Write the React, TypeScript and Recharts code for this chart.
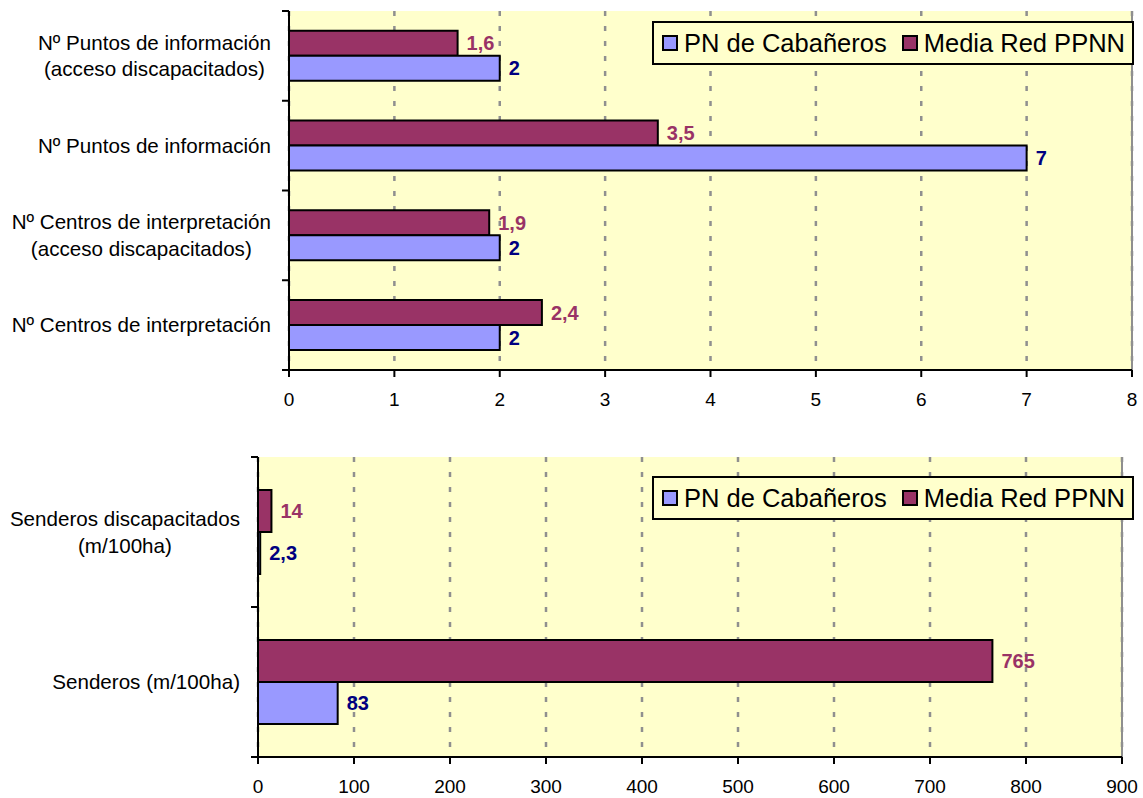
import {
  BarChart,
  Bar,
  XAxis,
  YAxis,
  CartesianGrid,
  Legend,
  LabelList,
  ReferenceLine,
} from "recharts";

// ─── Data ────────────────────────────────────────

const topCategories = [
  "Nº Puntos de información\n(acceso discapacitados)",
  "Nº Puntos de información",
  "Nº Centros de interpretación\n(acceso discapacitados)",
  "Nº Centros de interpretación",
];
const topPn = [2, 7, 2, 2];
const topMedia = [1.6, 3.5, 1.9, 2.4];
const topTicks = [0, 1, 2, 3, 4, 5, 6, 7, 8];

const bottomCategories = ["Senderos discapacitados\n(m/100ha)", "Senderos (m/100ha)"];
const bottomPn = [2.3, 83];
const bottomMedia = [14, 765];
const bottomTicks = [0, 100, 200, 300, 400, 500, 600, 700, 800, 900];

const PN_NAME = "PN de Cabañeros";
const MEDIA_NAME = "Media Red PPNN";
const LEGEND_ORDER = ["pn", "media"];

// ─── Styles ──────────────────────────────────────

const FONT = "Arial, 'Liberation Sans', Helvetica, sans-serif";
const PN_FILL = "#9999FF";
const MEDIA_FILL = "#993366";
const PN_LABEL = "#000080";
const PLOT_BG = "#FFFFCC";
const GRID = "#8f8f8f";
const CAT_FONT_SIZE = 20.6;

const fmt = (v: unknown) => String(v).replace(".", ",");

// ─── Text measuring for centred multi-line labels ─

let measureCtx: CanvasRenderingContext2D | null = null;
function textWidth(s: string, font: string) {
  if (!measureCtx && typeof document !== "undefined") {
    measureCtx = document.createElement("canvas").getContext("2d");
  }
  if (!measureCtx) return s.length * 10;
  measureCtx.font = font;
  return measureCtx.measureText(s).width;
}

// ─── Category tick: label + tick marks between categories ─

function CategoryTick(props: any) {
  const { x, y, payload, index, visibleTicksCount, height, lineHeight } = props;
  const band = (height ?? 0) / (visibleTicksCount || 1);
  const half = band / 2;
  const lines = String(payload.value).split("\n");
  const widest = Math.max(
    ...lines.map((l) => textWidth(l, `${CAT_FONT_SIZE}px ${FONT}`))
  );
  const cx = x - 18 - widest / 2;
  const first = y - ((lines.length - 1) * lineHeight) / 2;
  return (
    <g>
      <line x1={x - 7} x2={x} y1={y - half} y2={y - half} stroke="#000" strokeWidth={2} />
      {index === visibleTicksCount - 1 && (
        <line x1={x - 7} x2={x} y1={y + half} y2={y + half} stroke="#000" strokeWidth={2} />
      )}
      <text textAnchor="middle" fontSize={CAT_FONT_SIZE} fontFamily={FONT} fill="#000">
        {lines.map((l, i) => (
          <tspan key={i} x={cx} y={first + i * lineHeight} dy="0.35em">
            {l}
          </tspan>
        ))}
      </text>
    </g>
  );
}

// ─── Legend box ──────────────────────────────────

function LegendBox({ payload }: any) {
  const items = LEGEND_ORDER.map((k) =>
    (payload ?? []).find((p: any) => p.dataKey === k)
  ).filter(Boolean);
  return (
    <div
      style={{
        display: "flex",
        alignItems: "center",
        width: 482,
        height: 44,
        boxSizing: "border-box",
        border: "2px solid #000",
        background: PLOT_BG,
        paddingLeft: 8,
        fontFamily: FONT,
        fontSize: 25.5,
        color: "#000",
        whiteSpace: "nowrap",
        overflow: "hidden",
      }}
    >
      {items.map((it: any, i: number) => (
        <div
          key={it.dataKey}
          style={{ display: "flex", alignItems: "center", marginLeft: i ? 15 : 0 }}
        >
          <span
            style={{
              display: "inline-block",
              width: 16,
              height: 16,
              boxSizing: "border-box",
              border: "2px solid #000",
              background: it.color,
              marginRight: 6,
            }}
          />
          <span>{it.value}</span>
        </div>
      ))}
    </div>
  );
}

// ─── One horizontal bar panel ────────────────────

interface PanelProps {
  categories: string[];
  pn: number[];
  media: number[];
  ticks: number[];
  top: number;
  height: number;
  margin: { top: number; right: number; bottom: number; left: number };
  axisWidth: number;
  xAxisHeight: number;
  legendTop: number;
  lineHeight: number;
}

function Panel({
  categories,
  pn,
  media,
  ticks,
  top,
  height,
  margin,
  axisWidth,
  xAxisHeight,
  legendTop,
  lineHeight,
}: PanelProps) {
  const rows = categories.map((name, i) => ({ name, pn: pn[i], media: media[i] }));
  const max = ticks[ticks.length - 1];
  return (
    <div style={{ position: "absolute", left: 0, top }}>
      <BarChart
        width={1143}
        height={height}
        data={rows}
        layout="vertical"
        margin={margin}
        barCategoryGap="22%"
        barGap={0}
      >
        <CartesianGrid
          horizontal={false}
          fill={PLOT_BG}
          fillOpacity={1}
          stroke={GRID}
          strokeWidth={2.5}
          strokeDasharray="5 10"
        />
        <XAxis
          type="number"
          domain={[0, max]}
          ticks={ticks}
          interval={0}
          height={xAxisHeight}
          tickSize={7}
          tickMargin={16}
          axisLine={{ stroke: "#000", strokeWidth: 2 }}
          tickLine={{ stroke: "#000", strokeWidth: 2 }}
          tick={{ fontSize: 19, fill: "#000", fontFamily: FONT }}
        />
        <XAxis
          xAxisId="border"
          orientation="top"
          type="number"
          domain={[0, max]}
          height={0}
          tick={false}
          tickLine={false}
          axisLine={{ stroke: GRID, strokeWidth: 2 }}
        />
        <YAxis
          type="category"
          dataKey="name"
          width={axisWidth}
          interval={0}
          tickSize={0}
          tickMargin={0}
          tickLine={false}
          axisLine={{ stroke: "#000", strokeWidth: 2 }}
          tick={<CategoryTick lineHeight={lineHeight} />}
        />
        <ReferenceLine x={max} stroke={GRID} strokeWidth={2} />
        <Legend
          layout="vertical"
          align="center"
          verticalAlign="middle"
          content={<LegendBox />}
          wrapperStyle={{ left: 652, top: legendTop, width: 482 }}
        />
        <Bar
          dataKey="media"
          name={MEDIA_NAME}
          fill={MEDIA_FILL}
          stroke="#000"
          strokeWidth={2}
          isAnimationActive={false}
        >
          <LabelList
            dataKey="media"
            position="right"
            offset={9}
            fill={MEDIA_FILL}
            fontSize={20}
            fontWeight="bold"
            fontFamily={FONT}
            formatter={fmt}
          />
        </Bar>
        <Bar
          dataKey="pn"
          name={PN_NAME}
          fill={PN_FILL}
          stroke="#000"
          strokeWidth={2}
          isAnimationActive={false}
        >
          <LabelList
            dataKey="pn"
            position="right"
            offset={9}
            fill={PN_LABEL}
            fontSize={20}
            fontWeight="bold"
            fontFamily={FONT}
            formatter={fmt}
          />
        </Bar>
      </BarChart>
    </div>
  );
}

// ─── App ─────────────────────────────────────────

export default function App() {
  return (
    <div
      style={{
        position: "absolute",
        left: 0,
        top: 0,
        width: 1143,
        height: 798,
        background: "#fff",
        fontFamily: FONT,
      }}
    >
      <Panel
        categories={topCategories}
        pn={topPn}
        media={topMedia}
        ticks={topTicks}
        top={0}
        height={420}
        margin={{ top: 11, right: 11, bottom: 5, left: 0 }}
        axisWidth={289}
        xAxisHeight={45}
        legendTop={21}
        lineHeight={26.5}
      />
      <Panel
        categories={bottomCategories}
        pn={bottomPn}
        media={bottomMedia}
        ticks={bottomTicks}
        top={430}
        height={368}
        margin={{ top: 27, right: 21, bottom: 1, left: 0 }}
        axisWidth={258}
        xAxisHeight={40}
        legendTop={46}
        lineHeight={27}
      />
    </div>
  );
}
